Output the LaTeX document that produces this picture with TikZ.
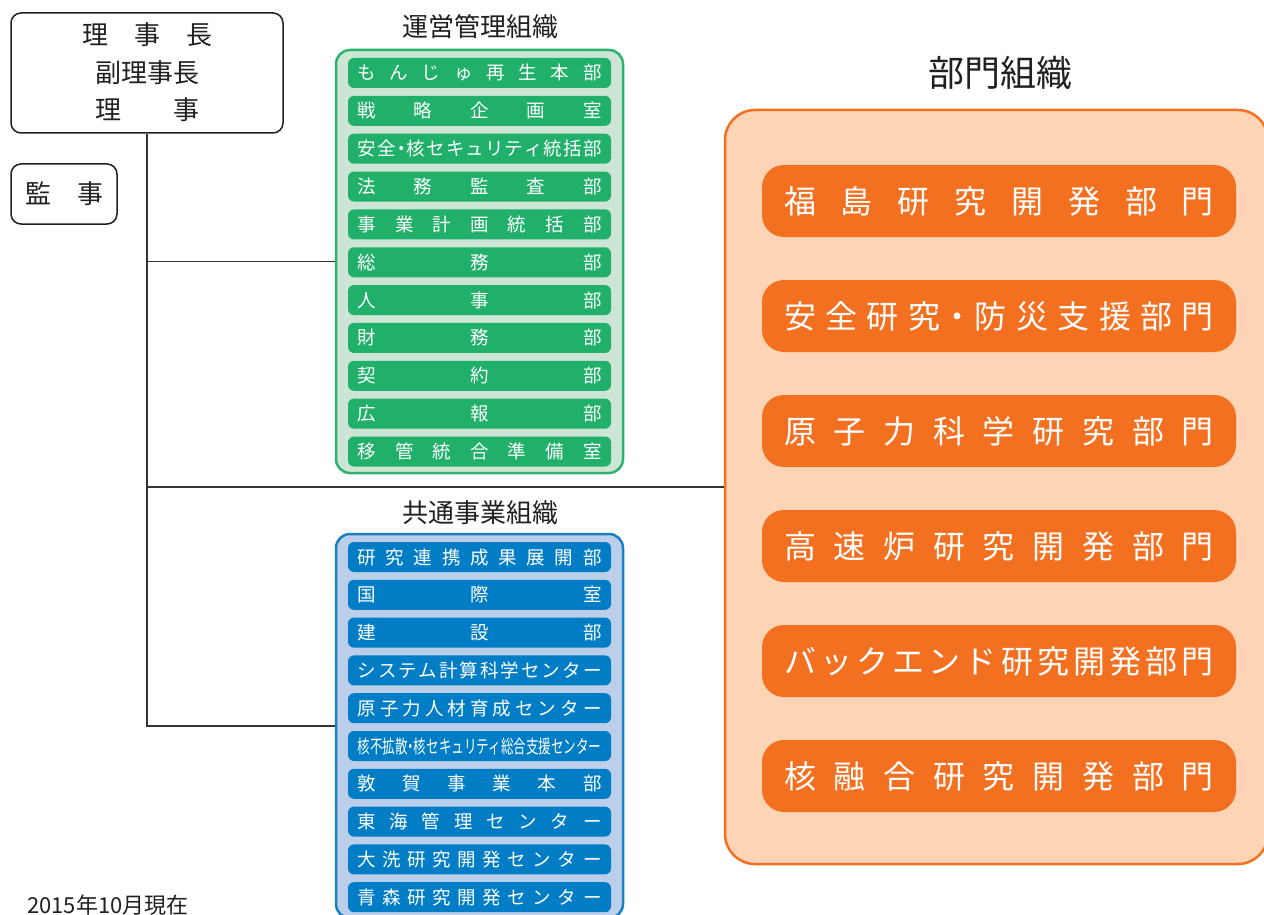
\documentclass[tikz,border=0pt]{standalone}
\usepackage{fontspec}
\usepackage{graphicx}
\setmainfont{Noto Sans CJK JP}
\makeatletter
\def\sp@end{\sp@end@}
\def\sp@loop#1{\ifx#1\sp@end\else\sp@sep#1\let\sp@sep\hfill\expandafter\sp@loop\fi}
\newcommand\spreadtext[2]{\makebox[#1][s]{\let\sp@sep\relax\expandafter\sp@loop#2\sp@end}}
\makeatother
\newcommand\hdot{\makebox[0.5em]{・}}
\definecolor{gitemc}{HTML}{20B06A}
\definecolor{gborder}{HTML}{2DB36F}
\definecolor{gfill}{HTML}{CDE5D4}
\definecolor{bitemc}{HTML}{007DC5}
\definecolor{bborder}{HTML}{1A7FC3}
\definecolor{bfill}{HTML}{BBCFEA}
\definecolor{oitemc}{HTML}{F37021}
\definecolor{oborder}{HTML}{F37021}
\definecolor{ofill}{HTML}{FDD4B5}
\definecolor{ink}{HTML}{231F20}
\definecolor{linec}{HTML}{333333}
\tikzset{
  headbox/.style={draw=ink, line width=1.5pt, rounded corners=10pt, fill=white, inner sep=0pt},
  headtext/.style={text=ink, font=\fontsize{26}{26}\selectfont, text height=20pt, text depth=0pt, inner sep=0pt},
  title/.style={text=ink, font=\fontsize{26}{26}\selectfont, text height=20pt, text depth=0pt, inner sep=0pt},
  conn/.style={draw=linec, line width=1.5pt},
  panel/.style={line width=2.5pt, inner sep=0pt},
  gitem/.style={fill=gitemc, rounded corners=6pt, minimum width=263pt, minimum height=30pt, inner sep=0pt, text=white, font=\fontsize{18.5}{18.5}\selectfont, text height=14pt, text depth=0pt},
  bitem/.style={gitem, fill=bitemc},
  oitem/.style={fill=oitemc, rounded corners=22pt, minimum width=474pt, minimum height=72pt, inner sep=0pt, text=white, font=\fontsize{32}{32}\selectfont, text height=24.5pt, text depth=0pt},
}
\begin{document}
\begin{tikzpicture}[x=1pt,y=-1pt]
\useasboundingbox (0,0) rectangle (1264,915);
\clip (0,0) rectangle (1264,915);
\fill[white] (0,0) rectangle (1264,915);

% executive boxes
\node[headbox, minimum width=272pt, minimum height=120pt] (top) at (147,73) {};
\node[headtext] (t1) at (147,35) {\spreadtext{130pt}{理事長}};
\node[headtext] (t2) at (147,73) {副理事長};
\node[headtext] (t3) at (147,110) {\spreadtext{104pt}{理事}};
\node[headbox, minimum width=106pt, minimum height=60pt] (audit) at (64,194) {};
\node[headtext] (auditt) at (64,194) {\spreadtext{78pt}{監事}};

% panels (positions)
\coordinate (gp) at (479.5,261.5);
\coordinate (bp) at (479.5,726);
\coordinate (op) at (996.5,487);

\node[panel, draw=gborder, fill=gfill, rounded corners=14pt, minimum width=287pt, minimum height=423pt] (gpanel) at (gp) {};
\node[panel, draw=bborder, fill=bfill, rounded corners=14pt, minimum width=287pt, minimum height=384pt] (bpanel) at (bp) {};
\node[panel, draw=oborder, fill=ofill, rounded corners=30pt, minimum width=543pt, minimum height=754pt] (opanel) at (op) {};

% connectors
\draw[conn] (top.south) -- (top.south |- bpanel.west) -- (bpanel.west);
\draw[conn] (top.south |- gpanel.west) -- (gpanel.west);
\draw[conn] (top.south |- opanel.west) -- (opanel.west);

% titles
\node[title] (gtitle) at (480,27) {運営管理組織};
\node[title] (btitle) at (480,512) {共通事業組織};
\node[title, font=\fontsize{36}{36}\selectfont, text height=27.5pt] (otitle) at (1000,73) {部門組織};

% green items
\foreach \t [count=\i from 0] in {もんじゅ再生本部,戦略企画室,安全\hdot 核セキュリティ統括部,法務監査部,事業計画統括部,総務部,人事部,財務部,契約部,広報部,移管統合準備室}
  \node[gitem] (g\i) at (479.5,{73+37.85*\i}) {\spreadtext{244pt}{\t}};

% blue items
\foreach \t [count=\i from 0] in {研究連携成果展開部,国際室,建設部,システム計算科学センター,原子力人材育成センター}
  \node[bitem] (b\i) at (479.5,{557+37.8*\i}) {\spreadtext{244pt}{\t}};
\node[bitem] (b5) at (479.5,{557+37.8*5}) {\resizebox{244pt}{\height}{核不拡散\makebox[0.5em]{・}核セキュリティ総合支援センター}};
\foreach \t [count=\i from 6] in {敦賀事業本部,東海管理センター,大洗研究開発センター,青森研究開発センター}
  \node[bitem] (b\i) at (479.5,{557+37.8*\i}) {\spreadtext{244pt}{\t}};

% orange items
\foreach \t [count=\i from 0] in {福島研究開発部門,安全研究\hdot 防災支援部門,原子力科学研究部門,高速炉研究開発部門,バックエンド研究開発部門,核融合研究開発部門}
  \node[oitem] (o\i) at (999,{201+115*\i}) {\spreadtext{430pt}{\t}};

% date note
\node[anchor=base west, inner sep=0pt, text=ink, font=\fontsize{22}{22}\selectfont] (date) at (27,913) {2015年10月現在};
\end{tikzpicture}
\end{document}
